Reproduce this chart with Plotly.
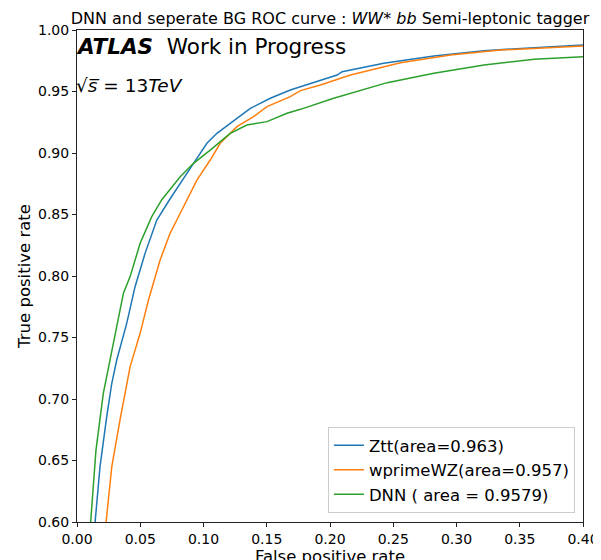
import plotly.graph_objects as go

# Ztt (blue)
ztt_fpr = [0.0143, 0.0182, 0.0235, 0.0275, 0.0314, 0.0393, 0.0459, 0.0538, 0.0631, 0.0731,
           0.0921, 0.1027, 0.1106, 0.1211, 0.1370, 0.1528, 0.1686, 0.1766, 0.1924, 0.2056,
           0.2096, 0.2425, 0.2821, 0.3217, 0.3613, 0.4000]
ztt_tpr = [0.600, 0.645, 0.6856, 0.7128, 0.7317, 0.7615, 0.7913, 0.8184, 0.8455, 0.862,
           0.8916, 0.9079, 0.9160, 0.9241, 0.9363, 0.9445, 0.9512, 0.9539, 0.9593, 0.9634,
           0.9661, 0.9729, 0.9789, 0.9832, 0.9856, 0.9878]

# wprimeWZ (orange)
wz_fpr = [0.0230, 0.0275, 0.0340, 0.0420, 0.0499, 0.0565, 0.0657, 0.0736, 0.0789, 0.0869,
          0.0948, 0.1053, 0.1132, 0.1264, 0.1396, 0.1502, 0.1686, 0.1766, 0.1924, 0.2162,
          0.2557, 0.2953, 0.3349, 0.4000]
wz_tpr = [0.600, 0.645, 0.683, 0.7263, 0.7534, 0.7805, 0.813, 0.8347, 0.8455, 0.862,
          0.878, 0.8943, 0.9079, 0.9214, 0.9295, 0.9377, 0.9458, 0.9507, 0.9553, 0.9634,
          0.9734, 0.9797, 0.9837, 0.9870]

# DNN (green)
dnn_fpr = [0.0108, 0.0150, 0.0208, 0.0261, 0.0301, 0.0367, 0.0420, 0.0499, 0.0591, 0.0670,
           0.0816, 0.0921, 0.1053, 0.1211, 0.1343, 0.1502, 0.1660, 0.1766, 0.2029, 0.2452,
           0.2821, 0.3217, 0.3613, 0.4000]
dnn_tpr = [0.600, 0.6585, 0.7046, 0.7317, 0.7534, 0.786, 0.7995, 0.8266, 0.8482, 0.862,
           0.8807, 0.8916, 0.9024, 0.916, 0.9228, 0.9255, 0.9323, 0.9355, 0.9445, 0.9572,
           0.9648, 0.9715, 0.9762, 0.9783]

series_names = ["Ztt(area=0.963)", "wprimeWZ(area=0.957)", "DNN ( area = 0.9579)"]
series_colors = ["#1f77b4", "#ff7f0e", "#2ca02c"]

x_ticks = [0.00, 0.05, 0.10, 0.15, 0.20, 0.25, 0.30, 0.35, 0.40]
y_ticks = [0.60, 0.65, 0.70, 0.75, 0.80, 0.85, 0.90, 0.95, 1.00]

FONT = "DejaVu Sans"

fig = go.Figure()
for xs, ys, name, col in zip([ztt_fpr, wz_fpr, dnn_fpr], [ztt_tpr, wz_tpr, dnn_tpr],
                             series_names, series_colors):
    fig.add_trace(go.Scatter(x=xs, y=ys, mode="lines", name=name,
                             line=dict(color=col, width=1.5)))

axis_common = dict(showgrid=False, zeroline=False, showline=True, linecolor="#222222",
                   linewidth=1, mirror=True, ticks="outside", ticklen=4, tickwidth=1,
                   tickcolor="#222222", automargin=False,
                   tickfont=dict(family=FONT, size=14, color="black"))

fig.update_xaxes(range=[0, 0.40], tickvals=x_ticks, ticktext=[f"{v:.2f}" for v in x_ticks],
                 title=dict(text="False positive rate", font=dict(family=FONT, size=16.5, color="black"),
                            standoff=3), **axis_common)
fig.update_yaxes(range=[0.60, 1.00], tickvals=y_ticks, ticktext=[f"{v:.2f}" for v in y_ticks],
                 title=dict(text="True positive rate", font=dict(family=FONT, size=16.5, color="black"),
                            standoff=3), **axis_common)

fig.update_layout(
    width=601, height=560,
    margin=dict(l=69, r=26, t=22, b=46),
    plot_bgcolor="white", paper_bgcolor="white",
    font=dict(family=FONT, color="black"),
    title=dict(text="DNN and seperate BG ROC curve : <i>WW</i>* <i>bb</i> Semi-leptonic tagger",
               xref="paper", x=0.5, xanchor="center", y=0.991, yanchor="top",
               font=dict(family=FONT, size=16, color="black")),
    legend=dict(x=0.984, y=0.018, xanchor="right", yanchor="bottom",
                bgcolor="white", bordercolor="#cccccc", borderwidth=1, itemwidth=30,
                font=dict(family=FONT, size=16.5, color="black"), tracegroupgap=0),
    showlegend=True,
)

fig.add_annotation(x=0, y=1, xref="paper", yref="paper", xanchor="left", yanchor="top",
                   xshift=-3, yshift=-2, showarrow=False,
                   text="<b><i>ATLAS</i></b>  Work in Progress",
                   font=dict(family=FONT, size=21.5, color="black"))
fig.add_annotation(x=0, y=1, xref="paper", yref="paper", xanchor="left", yanchor="top",
                   xshift=-3, yshift=-43, showarrow=False,
                   text="√<i>s̅</i> = 13<i>TeV</i>",
                   font=dict(family=FONT, size=18.5, color="black"))

fig.write_html("out.html")
